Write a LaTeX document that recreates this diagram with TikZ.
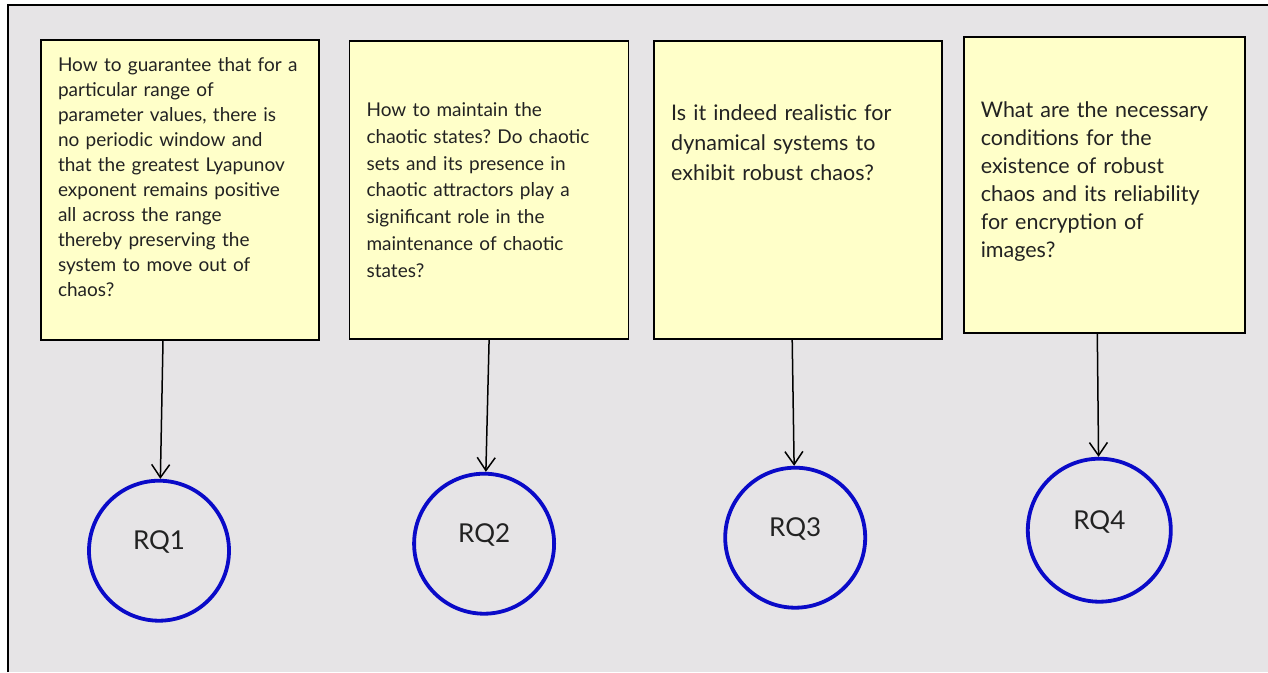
\documentclass[tikz,border=0pt]{standalone}
\usepackage{fontspec}
\setmainfont{Lato}
\usepackage{tikz}
\usetikzlibrary{arrows.meta,positioning}
\frenchspacing

\definecolor{panelgray}{HTML}{E6E4E6}
\definecolor{noteyellow}{HTML}{FFFFC9}
\definecolor{rqblue}{HTML}{0A0AC8}
\definecolor{inkgray}{HTML}{222222}

\begin{document}
\begin{tikzpicture}[
    x=1pt, y=-1pt,
    question/.style={draw=black, rectangle, fill=noteyellow, line width=1.6pt, inner xsep=17pt, inner ysep=0pt, align=left, text=inkgray},
    rq/.style={draw=rqblue, circle, line width=3.8pt, minimum size=140pt, inner sep=0pt, text=inkgray, font=\fontsize{26}{30}\selectfont, text height=11pt, text depth=13pt},
    arrow/.style={-{Straight Barb[length=13pt,width=18pt]}, line width=1.5pt, color=black}
]

% page and grey panel
\useasboundingbox (0,0) rectangle (1268,672);
\fill[white] (0,0) rectangle (1268,672);
\fill[panelgray] (8,5) rectangle (1268,672);
\draw[line width=1.8pt] (8,672) -- (8,5) -- (1268,5);

% Research questions
\node[question, minimum height=300pt, text width=244pt, text depth=250pt, font=\fontsize{19}{25}\selectfont] (b1) at (180,190) {
    How to guarantee that for a\\
    particular range of\\
    parameter values, there is\\
    no periodic window and\\
    that the greatest Lyapunov\\
    exponent remains positive\\
    all across the range\\
    thereby preserving the\\
    system to move out of\\
    chaos?
};

\node[question, right=29pt of b1, minimum height=298pt, text width=245pt, font=\fontsize{19}{26.7}\selectfont] (b2) {
    How to maintain the\\
    chaotic states? Do chaotic\\
    sets and its presence in\\
    chaotic attractors play a\\
    significant role in the\\
    maintenance of chaotic\\
    states?
};

\node[question, right=24pt of b2, minimum height=298pt, text width=254pt, text depth=154pt, font=\fontsize{21.5}{30}\selectfont] (b3) {
    Is it indeed realistic for\\
    dynamical systems to\\
    exhibit robust chaos?
};

\node[question, right=20pt of b3, yshift=5pt, minimum height=296pt, text width=247pt, text depth=150pt, font=\fontsize{21.5}{28}\selectfont] (b4) {
    What are the necessary\\
    conditions for the\\
    existence of robust\\
    chaos and its reliability\\
    for encryption of\\
    images?
};

% RQ circles
\node[rq, below=138pt of b1, xshift=-21pt] (q1) {RQ1};
\node[rq, below=132pt of b2, xshift=-5pt] (q2) {RQ2};
\node[rq, below=126pt of b3, xshift=-3pt] (q3) {RQ3};
\node[rq, below=123pt of b4, xshift=-5pt, minimum size=143pt] (q4) {RQ4};

\draw[arrow] ([xshift=-17pt]b1.south) -- (q1);
\draw[arrow] (b2.south) -- (q2);
\draw[arrow] ([xshift=-6pt]b3.south) -- (q3);
\draw[arrow] ([xshift=-7pt]b4.south) -- (q4);

\end{tikzpicture}
\end{document}
